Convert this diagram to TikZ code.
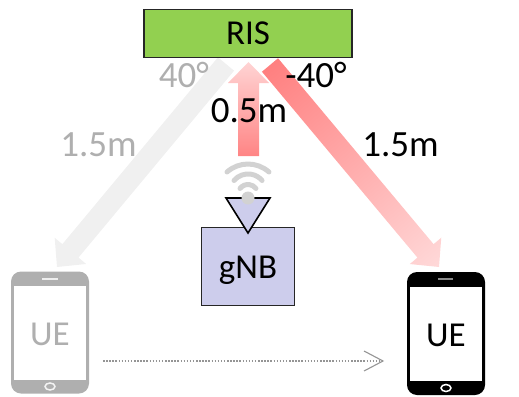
\documentclass[tikz,border=0pt]{standalone}
\usepackage{fontspec}
\setmainfont{Carlito}
\usetikzlibrary{calc,arrows.meta}
\definecolor{risgreen}{HTML}{92D050}
\definecolor{gnbblue}{HTML}{CDCDEC}
\definecolor{ghost}{HTML}{AFAFAF}
\definecolor{wifigray}{HTML}{D2D2D2}
\definecolor{movegray}{HTML}{959595}
\tikzset{
  lab/.style={inner sep=0pt,anchor=base,font=\fontsize{35}{40}\selectfont},
  numlab/.style={inner sep=0pt,anchor=base,font=\fontsize{37}{40}\selectfont},
  phonebody/.style={inner sep=0pt,rounded corners=10pt,minimum width=78pt,minimum height=122pt,fill=#1},
  phonescreen/.style={inner sep=0pt,fill=white,minimum width=72pt,minimum height=94pt},
  wifiarc/.style={draw=wifigray,line width=5pt,line cap=round},
}
\newcommand\gradarrow[4]{%
  \path let \p1=($(#2)-(#1)$) in \pgfextra{%
    \pgfmathsetmacro\tmpa{atan2(\y1,\x1)}\pgfmathsetmacro\tmpl{veclen(\x1,\y1)}%
    \xdef\arrang{\tmpa}\xdef\arrlen{\tmpl}};
  \begin{scope}[transform canvas={shift={(#1)},rotate=\arrang}]
    \shade[left color=#3,right color=#4]
      (0pt,-10.5pt) -- ({\arrlen*1pt-21pt},-10.5pt) -- ({\arrlen*1pt-21pt},-20.5pt)
      -- ({\arrlen*1pt},0pt) -- ({\arrlen*1pt-21pt},20.5pt) -- ({\arrlen*1pt-21pt},10.5pt)
      -- (0pt,10.5pt) -- cycle;
  \end{scope}}
\begin{document}
\begin{tikzpicture}[x=1pt,y=-1pt]
\useasboundingbox (0,0) rectangle (519,396);
% anchors of the wide arrows
\coordinate (gs) at (226,64);
\coordinate (gt) at (57,267);
\coordinate (rs) at (270,65);
\coordinate (rt) at (439,267);
\coordinate (ms) at (248.5,156);
\coordinate (mt) at (248.5,62);
\gradarrow{gs}{gt}{black!6}{black!6}
\gradarrow{rs}{rt}{red!50}{red!15}
\gradarrow{ms}{mt}{red!48}{red!17}
% RIS
\node[draw=black!85,line width=1.6pt,fill=risgreen,minimum width=208pt,minimum height=48pt,inner sep=0pt] (ris) at (248,33.5) {};
\node[lab] (ristext) at (248,45) {RIS};
% gNB
\node[draw=black!85,line width=1.6pt,fill=gnbblue,minimum width=93pt,minimum height=78pt,inner sep=0pt] (gnb) at (248,266.5) {};
\node[lab] (gnbtext) at (248,278) {gNB};
\path[draw=black,line width=1.6pt,fill=gnbblue,line join=miter] (226,198) -- (270,198) -- (248,233) -- cycle;
% wifi
\coordinate (wc) at (248,198);
\fill[wifigray] (wc) circle (6.5pt);
\draw[wifiarc] ($(wc)+(-21,-26)$) arc[start angle=131.6,end angle=48.4,radius=31.6pt];
\draw[wifiarc] ($(wc)+(-14,-17.5)$) arc[start angle=140,end angle=40,radius=18.3pt];
\draw[wifiarc] ($(wc)+(-8,-9.5)$) arc[start angle=143,end angle=37,radius=10pt];
% labels
\node[numlab,text=ghost] (a1) at (184,87) {40°};
\node[numlab] (a2) at (316,87) {-40°};
\node[numlab] (d1) at (249,122) {0.5m};
\node[numlab,text=ghost] (d2) at (98.5,156) {1.5m};
\node[numlab] (d3) at (400.5,156) {1.5m};
% left phone
\node[phonebody=ghost] (uel) at (50,332.5) {};
\node[phonescreen] (scl) at (50,333) {};
\node[lab,text=ghost] (uelt) at (50,345) {UE};
\draw[white!80!ghost,line width=1.5pt] (42,279) -- (58,279);
\draw[white!85!ghost,line width=1.5pt] (50,386.5) ellipse[x radius=5pt,y radius=3.5pt];
% right phone
\node[phonebody=black,minimum height=123pt] (uer) at (446,333.5) {};
\node[phonescreen] (scr) at (446,334) {};
\node[lab] (uert) at (446,346) {UE};
\draw[black!45,line width=1.5pt] (438,279) -- (453,279);
\draw[white,line width=1.5pt] (446,388) ellipse[x radius=5pt,y radius=3.5pt];
% movement
\coordinate (ms1) at (103,361);
\coordinate (ms2) at (383,361);
\draw[movegray,line width=1.2pt,dash pattern=on 1.5pt off 1.6pt] (ms1) -- (ms2);
\draw[movegray,line width=1.1pt] (364,351) -- (ms2) -- (364,371);
\end{tikzpicture}
\end{document}
